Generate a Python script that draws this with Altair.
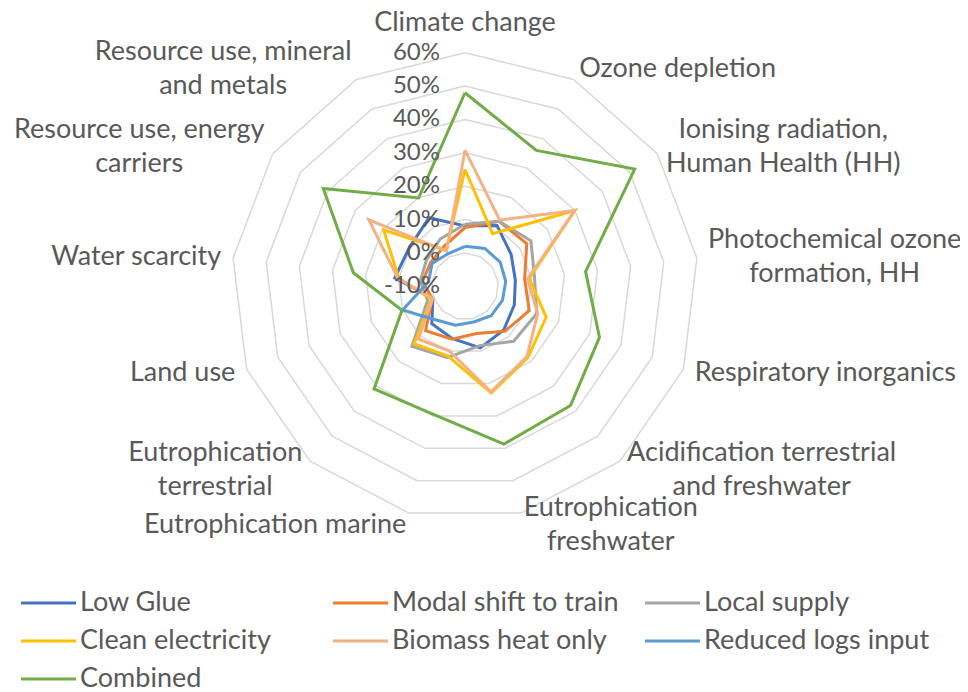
import math
import altair as alt
import pandas as pd

# ---------------- data ----------------
categories = [
    "Climate change", "Ozone depletion", "Ionising radiation, Human Health (HH)",
    "Photochemical ozone formation, HH", "Respiratory inorganics",
    "Acidification terrestrial and freshwater", "Eutrophication freshwater",
    "Eutrophication marine", "Eutrophication terrestrial", "Land use",
    "Water scarcity", "Resource use, energy carriers", "Resource use, mineral and metals",
]
category_labels = [
    "Climate change", "Ozone depletion", "Ionising radiation,\nHuman Health (HH)",
    "Photochemical ozone\nformation, HH", "Respiratory inorganics",
    "Acidification terrestrial\nand freshwater", "Eutrophication\nfreshwater",
    "Eutrophication marine", "Eutrophication\nterrestrial", "Land use",
    "Water scarcity", "Resource use, energy\ncarriers", "Resource use, mineral\nand metals",
]
series_names = ["Low Glue", "Modal shift to train", "Local supply", "Clean electricity",
                "Biomass heat only", "Reduced logs input", "Combined"]
series_colors = ["#4472C4", "#ED7D31", "#A5A5A5", "#FFC000", "#F4B183", "#5B9BD5", "#70AD47"]

low_glue = [8.1, 10.6, 6.8, 5.2, 5.8, 7.5, 9.0, 6.1, 5.0, 0.3, 11.2, 10.3, 13.2]
modal_shift = [7.6, 12.0, 12.5, 8.0, 10.6, 8.0, 4.6, 6.3, 7.8, 0.5, 2.8, 2.5, 3.5]
local_supply = [8.6, 12.0, 14.0, 11.0, 13.0, 12.0, 8.3, 12.0, 14.0, 2.0, 3.5, 4.0, 6.0]
clean_electricity = [25.0, 7.8, 30.0, 9.4, 16.0, 18.5, 22.9, 11.5, 13.0, 0.8, 10.0, 19.6, 2.2]
biomass_heat = [30.8, 12.4, 30.0, 8.9, 13.3, 18.0, 22.6, 9.9, 11.1, 0.3, 10.3, 25.0, 1.9]
reduced_logs = [2.0, 2.8, 2.8, 2.3, 2.0, 1.8, 1.0, 2.0, 3.4, 10.0, 1.0, 2.0, 1.0]
combined = [48.0, 36.0, 51.8, 26.4, 33.1, 37.7, 38.7, 29.5, 31.1, 10.2, 23.7, 41.6, 19.9]

series_values = [low_glue, modal_shift, local_supply, clean_electricity,
                 biomass_heat, reduced_logs, combined]

tick_values = [-10, 0, 10, 20, 30, 40, 50, 60]
tick_labels = ["-10%", "0%", "10%", "20%", "30%", "40%", "50%", "60%"]
ring_values = [0, 10, 20, 30, 40, 50, 60]

# ---------------- geometry / style ----------------
W, H = 952, 684
PX = 3.337             # pixels per percentage point
CX, CY = 457.0, 278.3  # centre of the radar in plot coordinates
R_MIN, R_MAX = -10, 60
N = len(categories)
FONT = "Lato"
TXT = "#595959"
LABEL_SIZE = 27
TICK_SIZE = 24
LINE_H = 34

xdom = [-CX / PX, (W - CX) / PX]
ydom = [-(H - CY) / PX, CY / PX]


def ang(k):
    return 2 * math.pi * k / N


def polar(v, k):
    r = v - R_MIN
    return r * math.sin(ang(k)), r * math.cos(ang(k))


rows = []
for name, vals in zip(series_names, series_values):
    for k in range(N + 1):
        x, y = polar(vals[k % N], k % N)
        rows.append({"series": name, "k": k, "x": x, "y": y})
df_lines = pd.DataFrame(rows)

grid_rows = []
for g in ring_values:
    for k in range(N + 1):
        x, y = polar(g, k % N)
        grid_rows.append({"ring": g, "k": k, "x": x, "y": y})
df_grid = pd.DataFrame(grid_rows)

df_ticks = pd.DataFrame({
    "x": [0.0] * len(tick_values),
    "y": [t - R_MIN for t in tick_values],
    "label": tick_labels,
})

# approximate Lato advance widths (em) to centre multi-line labels
WID = {"a": .51, "b": .56, "c": .46, "d": .56, "e": .53, "f": .33, "g": .50, "h": .56,
       "i": .24, "j": .24, "k": .50, "l": .24, "m": .84, "n": .56, "o": .56, "p": .56,
       "q": .56, "r": .37, "s": .43, "t": .35, "u": .56, "v": .50, "w": .77, "x": .49,
       "y": .50, "z": .45, " ": .19, ",": .21, "(": .30, ")": .30, "H": .74, "I": .27,
       "E": .56, "R": .62, "P": .60, "C": .66, "A": .68}


def text_w(s):
    return sum(WID.get(ch, .65) for ch in s) * LABEL_SIZE


lab_rows = []
R_OUT = R_MAX - R_MIN
for k, lab in enumerate(category_labels):
    s, c = math.sin(ang(k)), math.cos(ang(k))
    lines = lab.split("\n")
    if abs(s) < 0.01:
        gap = 30 / PX
        x, y = 0.0, R_OUT + gap
        align = "center"
    else:
        gap = 12 / PX
        x, y = (R_OUT + gap) * s, (R_OUT + gap) * c
        if len(lines) > 1:
            w = max(text_w(t) for t in lines)
            x += math.copysign(w / 2 / PX, s)
            align = "center"
        else:
            align = "left" if s > 0 else "right"
    # centre the whole block vertically on the anchor
    y += (len(lines) - 1) * LINE_H / 2 / PX
    lab_rows.append({"x": x, "y": y, "label": lab, "align": align})
df_labels = pd.DataFrame(lab_rows)

# legend laid out like the original (3 columns, row-major), pixel positions
LEG_X0, LEG_COL_W = 13, 312
LEG_Y0, LEG_ROW_H = 595, 38
SYM_LEN, TXT_OFF = 55, 59
leg_rows = []
for i, name in enumerate(series_names):
    col, row = i % 3, i // 3
    lx = LEG_X0 + col * LEG_COL_W
    ly = LEG_Y0 + row * LEG_ROW_H
    leg_rows.append({"series": name, "lx": lx, "lx2": lx + SYM_LEN,
                     "tx": lx + TXT_OFF, "ly": ly})
df_leg = pd.DataFrame(leg_rows)

# ---------------- chart ----------------
xs = alt.Scale(domain=xdom, nice=False, zero=False)
ys = alt.Scale(domain=ydom, nice=False, zero=False)
X = alt.X("x:Q", scale=xs, axis=None)
Y = alt.Y("y:Q", scale=ys, axis=None)
COLOR = alt.Color("series:N", scale=alt.Scale(domain=series_names, range=series_colors),
                  legend=None)

grid = alt.Chart(df_grid).mark_line(color="#D9D9D9", strokeWidth=1.5).encode(
    x=X, y=Y, detail="ring:N", order="k:Q")

lines = alt.Chart(df_lines).mark_line(strokeWidth=3).encode(
    x=X, y=Y, order="k:Q", color=COLOR)

ticks = alt.Chart(df_ticks).mark_text(
    align="right", baseline="middle", dx=-25, font=FONT, fontSize=TICK_SIZE, color=TXT
).encode(x=X, y=Y, text="label:N")

label_layers = []
for al in ["left", "right", "center"]:
    sub = df_labels[df_labels["align"] == al]
    label_layers.append(
        alt.Chart(sub).mark_text(
            align=al, baseline="middle", font=FONT, fontSize=LABEL_SIZE,
            color=TXT, lineBreak="\n", lineHeight=LINE_H
        ).encode(x=X, y=Y, text="label:N")
    )

leg_sym = alt.Chart(df_leg).mark_rule(strokeWidth=3).encode(
    x=alt.X("lx:Q", scale=None), x2="lx2:Q", y=alt.Y("ly:Q", scale=None), color=COLOR)
leg_txt = alt.Chart(df_leg).mark_text(
    align="left", baseline="middle", font=FONT, fontSize=LABEL_SIZE, color=TXT
).encode(x=alt.X("tx:Q", scale=None), y=alt.Y("ly:Q", scale=None), text="series:N")

chart = alt.layer(grid, lines, ticks, *label_layers, leg_sym, leg_txt).properties(
    width=W, height=H, padding=0,
    autosize=alt.AutoSizeParams(type="none"),
).configure_view(stroke=None)

chart.save("out.html", embed_options={"renderer": "svg", "actions": False})
